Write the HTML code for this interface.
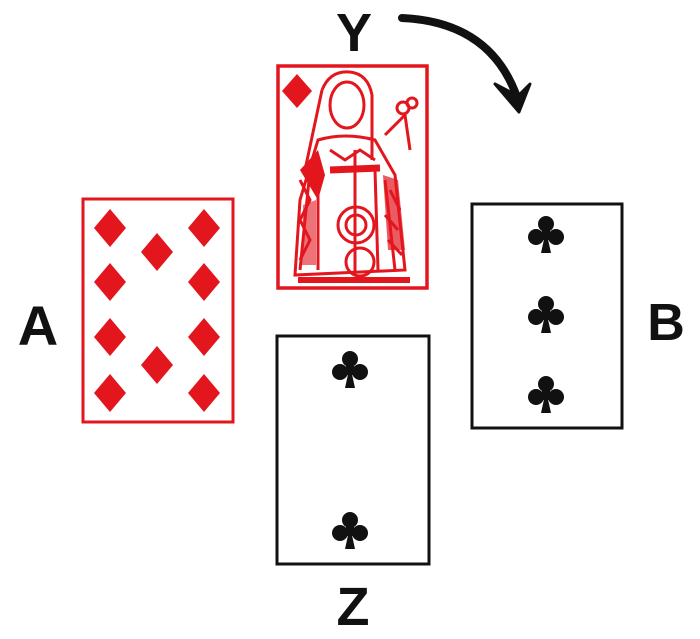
<!DOCTYPE html>
<html><head><style>
html,body{margin:0;padding:0;background:#fff;width:700px;height:639px;overflow:hidden}
svg{display:block}
.l{font-family:"Liberation Sans",sans-serif;font-weight:bold;fill:#111}
</style></head><body>
<svg width="700" height="639" viewBox="0 0 700 639">
<defs>
<g id="club">
<circle cx="0" cy="-10" r="8"/>
<circle cx="-10" cy="3" r="8"/>
<circle cx="10" cy="3" r="8"/>
<rect x="-4" y="-6" width="8" height="12"/>
<path d="M-1.5,3 L-5,19 L5,19 L1.5,3 Z"/>
</g>
<path id="dia" d="M0,-19 L16,0 L0,19 L-16,0 Z"/>
</defs>

<text class="l" x="38" y="345" font-size="56" text-anchor="middle">A</text>
<text class="l" x="666" y="340" font-size="52" text-anchor="middle">B</text>
<text class="l" x="354" y="51" font-size="54" text-anchor="middle">Y</text>
<text class="l" x="353" y="625" font-size="54" text-anchor="middle">Z</text>

<path d="M402,18 Q492,22 518,100" fill="none" stroke="#111" stroke-width="8" stroke-linecap="round"/>
<path d="M495,84 L519,112 L530,84 L518,96 Z" fill="#111" stroke="#111" stroke-width="3" stroke-linejoin="round"/>

<rect x="83" y="199" width="150" height="223" fill="#fff" stroke="#e3161e" stroke-width="3"/>
<g fill="#e3161e">
<use href="#dia" x="110" y="228"/><use href="#dia" x="204" y="228"/>
<use href="#dia" x="157" y="252"/>
<use href="#dia" x="110" y="282"/><use href="#dia" x="204" y="282"/>
<use href="#dia" x="110" y="337"/><use href="#dia" x="204" y="337"/>
<use href="#dia" x="157" y="365"/>
<use href="#dia" x="110" y="393"/><use href="#dia" x="204" y="393"/>
</g>

<rect x="278" y="66" width="149" height="222" fill="#fff" stroke="#e3161e" stroke-width="3.5"/>
<g fill="none" stroke="#e3161e" stroke-width="3">
<ellipse cx="347" cy="105" rx="17" ry="23"/>
<path d="M322,90 Q330,70 350,72 Q368,74 372,95"/>
<path d="M322,90 L305,170 M372,95 L372,160"/>
<path d="M318,140 Q345,132 375,140 L395,175 L405,270 L295,275 L300,200 Z"/>
<path d="M310,170 L300,270 M318,180 L318,270 M385,180 L395,270 M375,170 L378,270"/>
<path d="M330,170 L380,168" stroke-width="7"/>
<circle cx="356" cy="225" r="18"/><circle cx="356" cy="225" r="10"/>
<circle cx="360" cy="262" r="14"/>
<path d="M355,150 L355,275"/>
<path d="M385,135 L405,115 L410,150"/>
<circle cx="403" cy="108" r="6"/><circle cx="412" cy="103" r="5"/>
<path d="M298,280 L410,280" stroke-width="6"/>
<path d="M300,180 L310,200 L300,220 L310,240 L300,260"/>
<path d="M390,190 L400,210 M385,215 L398,230 M388,240 L402,255"/>
<path d="M330,150 L345,160 L360,150 L375,160"/>
</g>
<g fill="#e3161e">
<path d="M300,170 L318,150 L325,175 L318,200 Z"/>
<path d="M383,175 L398,180 L405,250 L388,250 Z" opacity="0.7"/>
<path d="M303,205 L316,200 L316,265 L302,265 Z" opacity="0.6"/>
</g>
<path d="M282,91 L297,74 L312,91 L297,108 Z" fill="#e3161e"/>

<rect x="472" y="204" width="150" height="224" fill="#fff" stroke="#111" stroke-width="3"/>
<g fill="#111">
<use href="#club" x="546" y="234"/>
<use href="#club" x="546" y="314"/>
<use href="#club" x="546" y="394"/>
</g>

<rect x="277" y="336" width="152" height="228" fill="#fff" stroke="#111" stroke-width="3"/>
<g fill="#111">
<use href="#club" x="350" y="369"/>
<use href="#club" x="350" y="530"/>
</g>
</svg>
</body></html>
